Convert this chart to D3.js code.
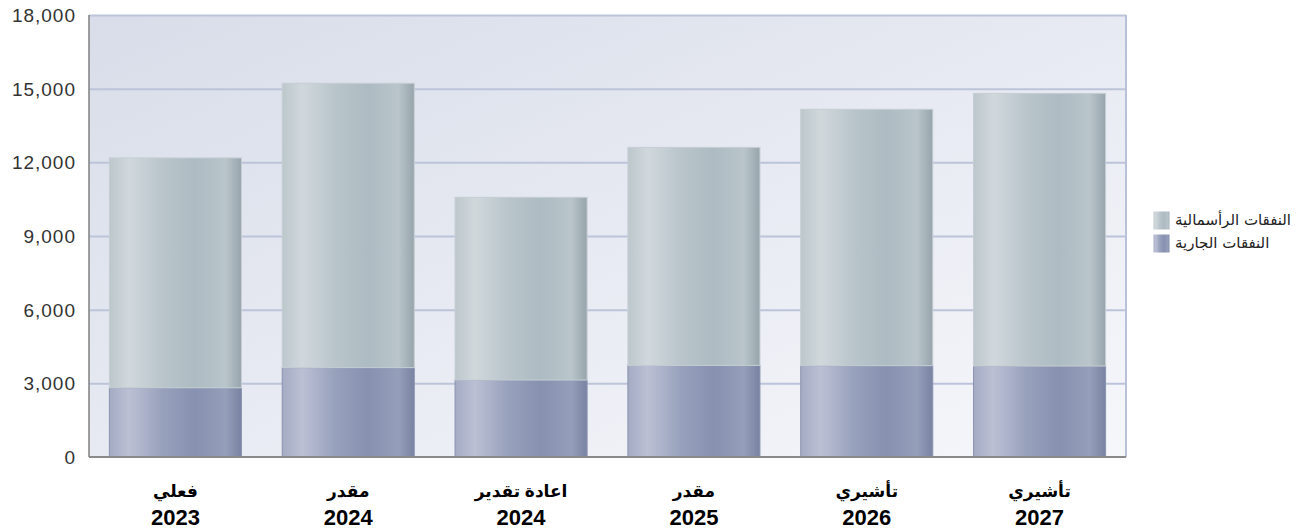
<!DOCTYPE html>
<html>
<head>
<meta charset="utf-8">
<script src="https://cdn.jsdelivr.net/npm/d3@7"></script>
<style>
  body { margin: 0; background: #fff; }
  svg { display: block; }
</style>
</head>
<body>
<div id="chart-area"></div>
<script>
// chart values
const labelsTop = ["فعلي", "مقدر", "اعادة تقدير", "مقدر", "تأشيري", "تأشيري"];
const labelsYear = ["2023", "2024", "2024", "2025", "2026", "2027"];
const currentSpend = [2820, 3640, 3135, 3730, 3720, 3705];     // النفقات الجارية
const capitalSpend = [9360, 11580, 7440, 8880, 10440, 11105];  // النفقات الرأسمالية
const seriesNames = ["النفقات الرأسمالية", "النفقات الجارية"];
const yTicks = [0, 3000, 6000, 9000, 12000, 15000, 18000];

const MARGIN = { LEFT: 89, RIGHT: 186, TOP: 15, BOTTOM: 72 };
const WIDTH = 1312 - MARGIN.LEFT - MARGIN.RIGHT;
const HEIGHT = 529 - MARGIN.TOP - MARGIN.BOTTOM;

const svg = d3.select("#chart-area").append("svg")
  .attr("width", 1312)
  .attr("height", 529);

const defs = svg.append("defs");

function addGrad(id, stops, x2, y2) {
  const gr = defs.append("linearGradient").attr("id", id)
    .attr("x1", "0%").attr("y1", "0%").attr("x2", x2).attr("y2", y2);
  stops.forEach(s => gr.append("stop").attr("offset", s[0]).attr("stop-color", s[1]));
}
addGrad("bg", [["0%", "#d8dde9"], ["100%", "#f6f7fb"]], "100%", "100%");
addGrad("capGrad", [["0%", "#bcc7cc"], ["15%", "#d0d8dc"], ["40%", "#b9c5cb"],
  ["65%", "#adbbc2"], ["88%", "#b9c5cb"], ["100%", "#97a4ab"]], "100%", "0%");
addGrad("curGrad", [["0%", "#a4abc3"], ["15%", "#bbc0d4"], ["40%", "#98a1bc"],
  ["65%", "#8791b0"], ["88%", "#959fba"], ["100%", "#7983a2"]], "100%", "0%");

const g = svg.append("g")
  .attr("transform", `translate(${MARGIN.LEFT}, ${MARGIN.TOP})`);

const rows = labelsYear.map((yr, i) => ({ i: i, current: currentSpend[i], capital: capitalSpend[i] }));
const stacked = d3.stack().keys(["current", "capital"])(rows);

const x = d3.scaleBand()
  .domain(d3.range(rows.length))
  .range([0, WIDTH])
  .paddingInner(0.236)
  .paddingOuter(0.118);

const y = d3.scaleLinear()
  .domain([0, 18000])
  .range([HEIGHT, 0]);

// plot background
g.append("rect")
  .attr("width", WIDTH).attr("height", HEIGHT)
  .attr("fill", "url(#bg)");

// grid lines
g.selectAll(".grid").data(yTicks.slice(1)).enter().append("line")
  .attr("x1", 0).attr("x2", WIDTH)
  .attr("y1", d => y(d) + 0.5).attr("y2", d => y(d) + 0.5)
  .attr("stroke", "#bcc4da").attr("stroke-width", 2);

// right border
g.append("line")
  .attr("x1", WIDTH).attr("x2", WIDTH).attr("y1", 0).attr("y2", HEIGHT)
  .attr("stroke", "#b9c1d8").attr("stroke-width", 2);

// bars
const color = { current: "url(#curGrad)", capital: "url(#capGrad)" };
const edge = { current: "#8a93b0", capital: "#c6ced4" };
stacked.forEach(layer => {
  g.selectAll(".bar-" + layer.key).data(layer).enter().append("rect")
    .attr("x", (d, i) => x(i))
    .attr("y", d => y(d[1]))
    .attr("width", x.bandwidth())
    .attr("height", d => y(d[0]) - y(d[1]))
    .attr("fill", color[layer.key])
    .attr("stroke", edge[layer.key])
    .attr("stroke-width", 1);
});

// axes lines
g.append("line").attr("x1", 0).attr("x2", 0).attr("y1", 0).attr("y2", HEIGHT)
  .attr("stroke", "#7f7f7f").attr("stroke-width", 1.5);
g.append("line").attr("x1", 0).attr("x2", WIDTH).attr("y1", HEIGHT).attr("y2", HEIGHT)
  .attr("stroke", "#8a8a8a").attr("stroke-width", 2);

// y tick labels
g.selectAll(".ylab").data(yTicks).enter().append("text")
  .attr("x", -13)
  .attr("y", d => y(d))
  .attr("dy", "0.36em")
  .attr("text-anchor", "end")
  .attr("font-family", "Arial, 'Liberation Sans', sans-serif")
  .attr("font-size", 19)
  .attr("letter-spacing", 1)
  .attr("fill", "#333")
  .text(d => d3.format(",")(d));

// x labels
const xl = g.selectAll(".xlab").data(rows).enter().append("g")
  .attr("transform", (d, i) => `translate(${x(i) + x.bandwidth() / 2}, ${HEIGHT})`);
xl.append("text")
  .attr("y", 40)
  .attr("text-anchor", "middle")
  .attr("font-family", "Arial, 'Liberation Sans', 'DejaVu Sans', sans-serif")
  .attr("font-size", 17)
  .attr("font-weight", "bold")
  .attr("fill", "#000")
  .text((d, i) => labelsTop[i]);
xl.append("text")
  .attr("y", 68)
  .attr("text-anchor", "middle")
  .attr("font-family", "Arial, 'Liberation Sans', sans-serif")
  .attr("font-size", 22)
  .attr("font-weight", "bold")
  .attr("fill", "#000")
  .text((d, i) => labelsYear[i]);

// legend
const legend = svg.append("g").attr("transform", "translate(1153, 211)");
const legFill = ["url(#capGrad)", "url(#curGrad)"];
seriesNames.forEach((name, i) => {
  const row = legend.append("g").attr("transform", `translate(0, ${i * 23})`);
  row.append("rect")
    .attr("width", 17).attr("height", 19)
    .attr("fill", legFill[i])
    .attr("stroke", "#fff").attr("stroke-width", 1);
  row.append("text")
    .attr("x", 22).attr("y", 9)
    .attr("dy", "0.35em")
    .attr("font-family", "'DejaVu Sans', Arial, sans-serif")
    .attr("font-size", 15)
    .attr("fill", "#222")
    .text(name);
});
</script>
</body>
</html>
